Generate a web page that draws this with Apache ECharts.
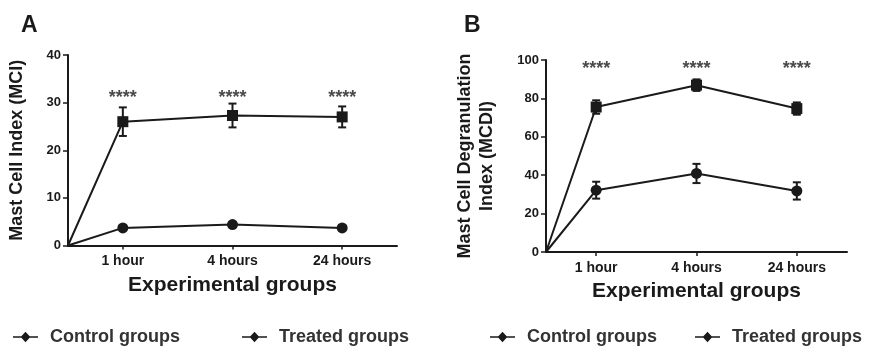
<!DOCTYPE html>
<html>
<head>
<meta charset="utf-8">
<script src="https://cdn.jsdelivr.net/npm/echarts@6/dist/echarts.min.js"></script>
<style>html,body{margin:0;padding:0;background:#fff}#c{width:872px;height:349px}</style>
</head>
<body>
<div id="c"></div>
<script>
const categories = ['1 hour', '4 hours', '24 hours'];
const seriesNames = ['Control groups', 'Treated groups'];
// Panel A: Mast Cell Index (MCI)
const controlA = [3.7, 4.4, 3.7];
const controlErrA = [0.4, 0.4, 0.5];
const treatedA = [26.0, 27.3, 27.0];
const treatedErrA = [3.0, 2.5, 2.2];
const yTicksA = [0, 10, 20, 30, 40];
const starsA = 31.0;
// Panel B: Mast Cell Degranulation Index (MCDI)
const controlB = [32.2, 40.9, 31.8];
const controlErrB = [4.4, 5.0, 4.5];
const treatedB = [75.5, 86.9, 74.7];
const treatedErrB = [3.5, 3.0, 3.2];
const yTicksB = [0, 20, 40, 60, 80, 100];
const starsB = 95.5;
const starText = '****';

const FONT = 'Liberation Sans, Arial, sans-serif';
const INK = '#1a1a1a';
const xIdx = categories.map((c, i) => 2 * i + 1);
const axisCats = [''];
categories.forEach(c => { axisCats.push(c); axisCats.push(''); });

function lineData(vals) {
  return [{ value: [0, 0], symbol: 'none' }].concat(vals.map((v, i) => [xIdx[i], v]));
}
function errData(vals, errs) {
  return vals.map((v, i) => [xIdx[i], v - errs[i], v + errs[i]]);
}
function errItem(params, api) {
  const x = api.value(0);
  const p1 = api.coord([x, api.value(1)]);
  const p2 = api.coord([x, api.value(2)]);
  const w = 4;
  const st = { stroke: INK, lineWidth: 2 };
  return {
    type: 'group', children: [
      { type: 'line', shape: { x1: p1[0], y1: p1[1], x2: p2[0], y2: p2[1] }, style: st },
      { type: 'line', shape: { x1: p1[0] - w, y1: p1[1], x2: p1[0] + w, y2: p1[1] }, style: st },
      { type: 'line', shape: { x1: p2[0] - w, y1: p2[1], x2: p2[0] + w, y2: p2[1] }, style: st }
    ]
  };
}
function xAxisFor(gi, nameGap) {
  return {
    gridIndex: gi, type: 'category', data: axisCats, boundaryGap: false,
    name: 'Experimental groups', nameLocation: 'middle', nameGap: nameGap,
    nameTextStyle: { fontFamily: FONT, fontWeight: 'bold', fontSize: 21, color: INK },
    axisLine: { lineStyle: { color: INK, width: 2 } },
    axisTick: { show: true, interval: (i) => i % 2 === 1, length: 4, lineStyle: { color: INK, width: 1.5 } },
    axisLabel: { interval: (i) => i % 2 === 1, margin: 9, fontFamily: FONT, fontWeight: 'bold', fontSize: 14, color: INK },
    splitLine: { show: false }
  };
}
function yAxisFor(gi, ticks, name, nameGap) {
  return {
    gridIndex: gi, type: 'value', min: ticks[0], max: ticks[ticks.length - 1], interval: ticks[1] - ticks[0],
    name: name, nameLocation: 'middle', nameGap: nameGap, nameRotate: 90,
    nameTextStyle: { fontFamily: FONT, fontWeight: 'bold', fontSize: 18, color: INK, lineHeight: 22 },
    axisLine: { show: true, lineStyle: { color: INK, width: 2 } },
    axisTick: { show: true, length: 5, lineStyle: { color: INK, width: 1.5 } },
    axisLabel: { margin: 7, fontFamily: FONT, fontWeight: 'bold', fontSize: 13, color: INK },
    splitLine: { show: false }
  };
}
function panelSeries(gi, ctrl, ctrlErr, trt, trtErr, starY) {
  const base = { xAxisIndex: gi, yAxisIndex: gi };
  return [
    Object.assign({ type: 'line', name: seriesNames[0], data: lineData(ctrl), symbol: 'circle', symbolSize: 11,
      lineStyle: { color: INK, width: 2 }, itemStyle: { color: INK }, z: 3 }, base),
    Object.assign({ type: 'line', name: seriesNames[1], data: lineData(trt), symbol: 'rect', symbolSize: 11,
      lineStyle: { color: INK, width: 2 }, itemStyle: { color: INK }, z: 3 }, base),
    Object.assign({ type: 'custom', name: seriesNames[0], renderItem: errItem, data: errData(ctrl, ctrlErr), z: 4 }, base),
    Object.assign({ type: 'custom', name: seriesNames[1], renderItem: errItem, data: errData(trt, trtErr), z: 4 }, base),
    Object.assign({ type: 'scatter', data: xIdx.map(x => [x, starY]), symbolSize: 0, silent: true,
      label: { show: true, position: 'inside', formatter: starText, fontFamily: FONT, fontWeight: 'bold', fontSize: 18, color: INK } }, base)
  ];
}
const legendIcon = 'path://M0,4.2 L8,4.2 L12,0 L16,4.2 L24,4.2 L24,5.8 L16,5.8 L12,10 L8,5.8 L0,5.8 Z';
function legendAt(name, left) {
  return { data: [{ name: name, icon: legendIcon }], left: left, top: 323, itemWidth: 25, itemHeight: 12, itemGap: 0,
    selectedMode: false, textStyle: { fontFamily: FONT, fontWeight: 'bold', fontSize: 18, color: '#333', padding: [0, 0, 0, 7] } };
}

const option = {
  animation: false,
  backgroundColor: '#fff',
  grid: [
    { left: 68, top: 55, width: 329, height: 190.5 },
    { left: 546, top: 60, width: 301, height: 192 }
  ],
  xAxis: [xAxisFor(0, 29), xAxisFor(1, 29)],
  yAxis: [yAxisFor(0, yTicksA, 'Mast Cell Index (MCI)', 40), yAxisFor(1, yTicksB, 'Mast Cell Degranulation\nIndex (MCDI)', 48)],
  legend: [legendAt(seriesNames[0], 8), legendAt(seriesNames[1], 237), legendAt(seriesNames[0], 485), legendAt(seriesNames[1], 690)],
  graphic: [
    { type: 'text', left: 21, top: 14, style: { text: 'A', font: 'bold 23px ' + FONT, fill: INK } },
    { type: 'text', left: 464, top: 14, style: { text: 'B', font: 'bold 23px ' + FONT, fill: INK } }
  ],
  series: panelSeries(0, controlA, controlErrA, treatedA, treatedErrA, starsA)
    .concat(panelSeries(1, controlB, controlErrB, treatedB, treatedErrB, starsB))
};
const chart = echarts.init(document.getElementById('c'), null, { renderer: 'canvas' });
chart.setOption(option);
</script>
</body>
</html>
